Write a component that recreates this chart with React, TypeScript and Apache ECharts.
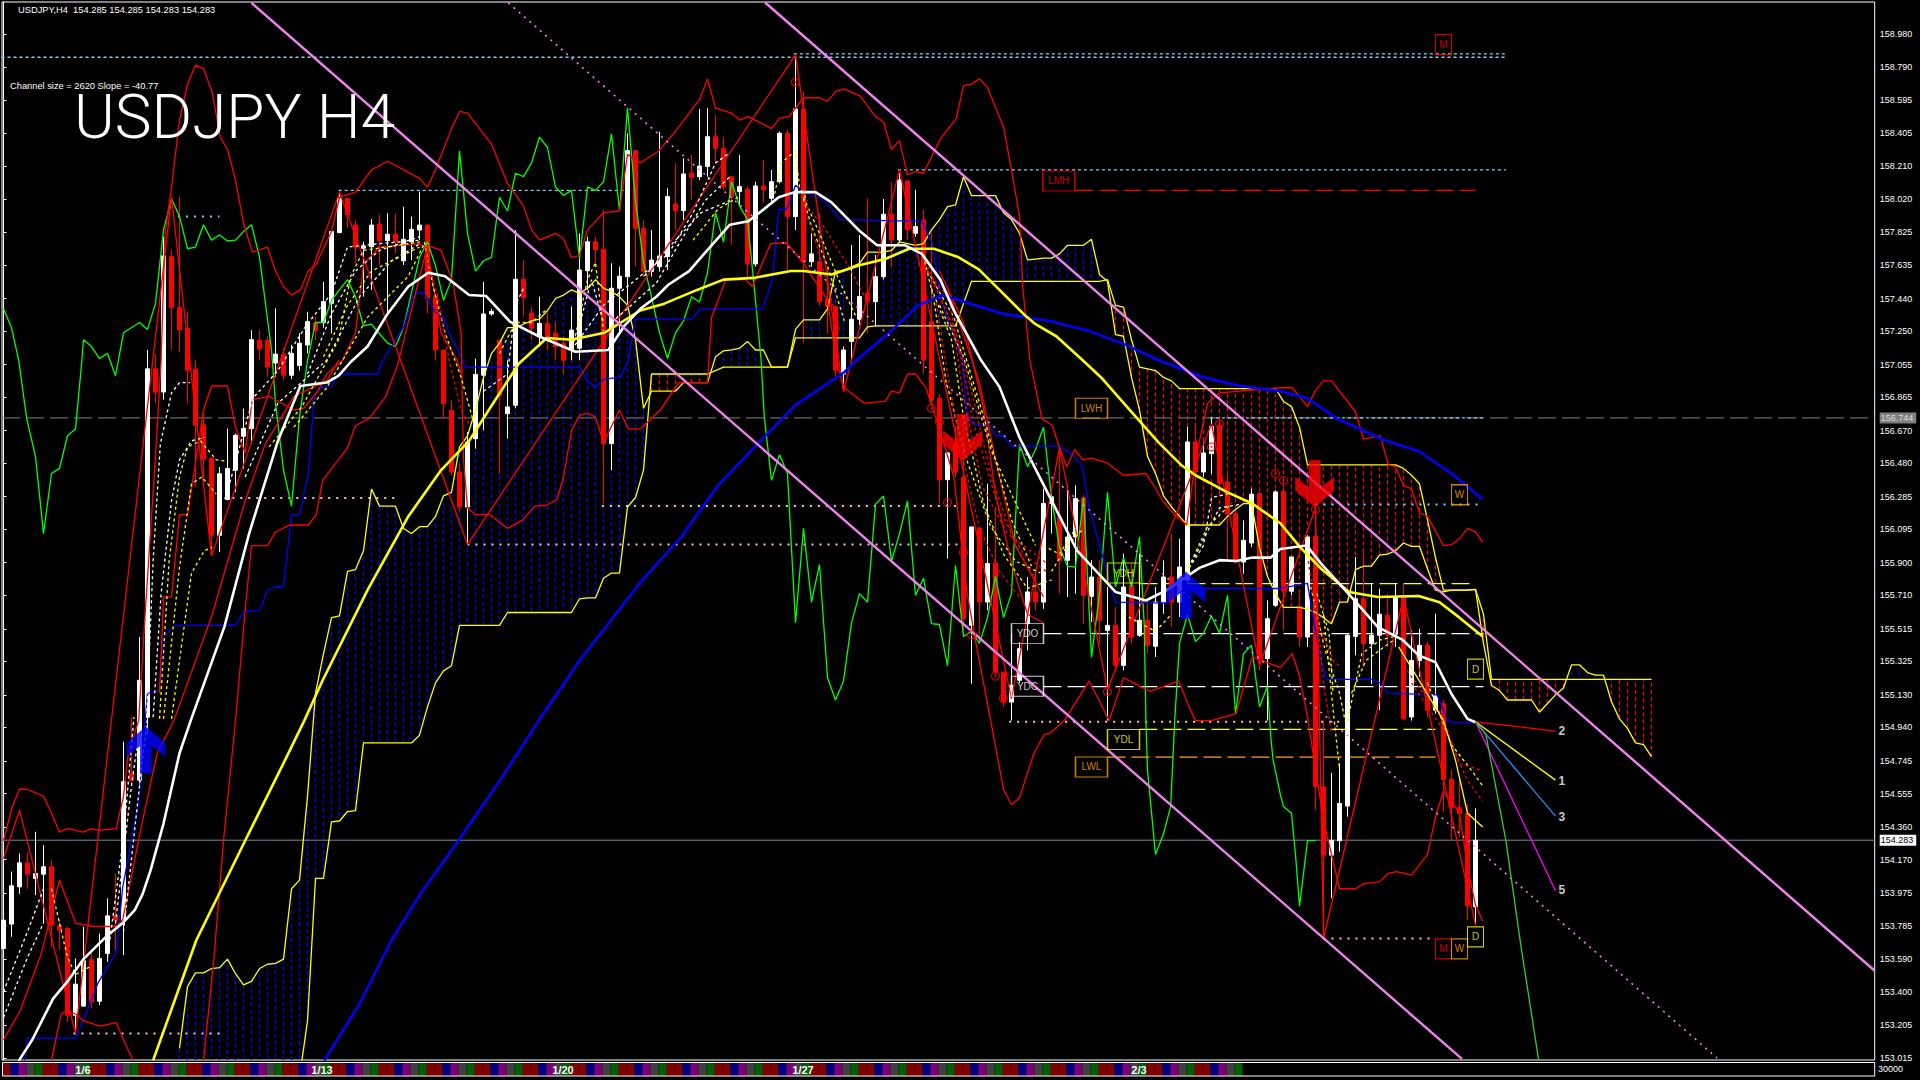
import React, { useEffect, useRef } from "react";
import * as echarts from "echarts";

type P = [number, number];

const axisTicks = [158.98,158.79,158.595,158.405,158.21,158.02,157.825,157.635,157.44,157.25,157.055,156.865,156.67,156.48,156.285,156.095,155.9,155.71,155.515,155.325,155.13,154.94,154.745,154.555,154.36,154.17,153.975,153.785,153.59,153.4,153.205,153.015];
const priceNow = 154.283;
const priceAsk = 156.744;

// open, close, low, high per H4 bar
const ohlc: number[][] = [
[153.652,153.817,153.63,153.83],[153.794,154.017,153.72,154.1],[154.011,154.151,153.97,154.206],[154.151,154.085,154.0,154.215],[154.06,154.089,153.963,154.332],
[154.085,154.128,153.798,154.254],[154.128,153.788,153.662,154.167],[153.784,153.759,153.642,153.817],[153.769,153.263,153.225,153.778],[153.263,153.444,153.157,153.594],
[153.316,153.58,153.312,153.778],[153.588,153.341,153.302,153.642],[153.345,153.594,153.322,153.739],[153.623,153.842,153.574,153.944],[153.846,153.817,153.642,154.089],
[153.817,154.624,153.613,154.857],[154.672,154.633,154.6,155.0],[154.633,155.215,154.58,155.467],[155.0,157.03,154.9,157.14],[157.03,156.895,156.83,157.12],
[156.895,157.688,156.85,157.8],[157.684,157.387,157.14,157.723],[157.389,157.256,157.13,158.034],[157.266,157.022,156.827,157.363],[157.028,156.701,156.342,157.08],
[156.705,156.503,156.342,156.769],[156.507,156.06,155.943,156.517],[156.06,156.419,155.963,156.458],[156.268,156.449,156.264,156.682],[156.439,156.643,156.312,156.653],
[156.637,156.682,156.449,156.798],[156.682,157.2,156.594,157.256],[157.197,157.145,157.08,157.256],[157.197,157.041,156.983,157.22],[157.064,157.116,156.983,157.383],
[157.116,156.993,156.963,157.15],[156.993,157.12,156.97,157.17],[157.05,157.179,157.02,157.237],[157.169,157.305,157.12,157.363],[157.299,157.253,157.198,157.334],
[157.299,157.422,157.27,157.538],[157.412,157.83,157.237,157.83],[157.824,158.024,157.82,158.063],[158.024,157.927,157.849,158.024],[157.868,157.738,157.645,157.898],
[157.733,157.746,157.451,157.771],[157.742,157.868,157.49,157.903],[157.874,157.777,157.635,157.927],[157.777,157.814,157.344,157.937],[157.814,157.771,157.703,157.937],
[157.66,157.785,157.635,157.975],[157.771,157.843,157.664,157.917],[157.839,157.868,157.781,158.063],[157.868,157.441,157.354,157.868],[157.451,157.14,157.08,157.47],
[157.14,156.827,156.74,157.14],[156.789,156.429,156.41,156.847],[156.429,156.225,156.2,156.478],[156.225,156.604,156.011,156.662],[156.623,156.998,156.565,157.09],
[156.993,157.35,156.672,157.538],[157.35,157.365,157.34,157.38],[157.197,156.876,156.419,157.2],[156.769,156.808,156.623,157.08],[156.818,157.552,156.8,157.839],
[157.552,157.445,157.334,157.664],[157.354,157.266,157.198,157.393],[157.218,157.295,157.159,157.451],[157.295,157.198,157.14,157.354],[157.237,157.159,157.08,157.3],
[157.179,157.08,157.0,157.22],[157.14,157.256,157.08,157.393],[157.15,157.606,157.08,157.82],[157.602,157.771,157.49,157.8],[157.771,157.723,157.626,157.8],
[157.727,156.594,156.245,157.956],[156.594,157.5,156.439,157.645],[157.5,157.57,157.237,157.626],[157.567,158.302,157.4,158.403],[158.302,157.849,157.626,158.3],
[157.849,157.597,157.567,157.898],[157.597,157.664,157.567,157.839],[157.625,157.688,157.597,158.413],[157.684,158.034,157.606,158.082],[157.991,157.952,157.839,158.228],
[157.952,158.166,157.898,158.257],[158.17,158.146,158.014,158.277],[158.15,158.212,158.13,158.545],[158.209,158.383,158.15,158.549],[158.383,158.315,158.228,158.51],
[158.315,158.092,158.073,158.383],[158.15,158.033,157.752,158.15],[158.063,158.092,157.975,158.277],[158.076,157.641,157.567,158.092],[157.641,158.096,157.626,158.121],
[158.096,158.073,158.0,158.247],[158.024,158.121,157.995,158.189],[158.121,158.403,158.111,158.413],[158.403,157.917,157.606,158.422],[157.917,158.545,157.839,158.859],
[158.545,157.655,157.179,158.646],[157.655,157.7,157.626,157.82],[157.655,157.422,157.4,157.937],[157.437,157.393,157.237,157.626],[157.393,157.022,156.963,157.4],
[157.0,157.14,156.895,157.16],[157.189,157.319,157.08,157.752],[157.319,157.451,157.286,157.81],[157.47,157.422,157.237,158.024],[157.422,157.567,157.276,157.694],
[157.567,157.931,157.55,158.02],[157.931,157.781,157.626,158.121],[157.781,158.131,157.762,158.189],[158.125,157.839,157.781,158.131],[157.82,157.859,157.8,158.073],
[157.898,157.08,157.0,157.956],[157.305,156.847,156.827,157.82],[156.857,156.384,156.245,156.886],[156.384,156.54,155.924,156.546],[156.594,156.429,156.4,156.7],
[156.4,155.574,155.487,156.759],[155.535,156.109,155.195,156.109],[156.103,155.671,155.428,156.103],[155.671,155.895,155.623,156.361],[155.899,155.263,155.234,156.225],
[155.263,155.088,155.059,155.263],[155.088,155.186,154.98,155.487],[155.215,155.399,155.2,155.438],[155.545,155.73,155.39,155.817],[155.73,155.671,155.62,155.837],
[155.671,156.245,155.632,156.332],[156.245,156.284,156.07,156.303],[156.167,155.914,155.72,156.565],[155.914,156.05,155.7,156.351],[156.05,156.274,155.72,156.351],
[156.278,155.71,155.545,156.293],[155.704,155.817,155.555,155.914],[155.817,155.565,155.428,155.914],[155.506,155.535,154.98,155.759],[155.535,155.302,155.27,155.642],
[155.302,155.759,155.273,155.953],[155.769,155.467,155.428,155.895],[155.477,155.565,155.467,155.953],[155.565,155.419,155.37,155.681],[155.413,155.671,155.351,155.759],
[155.671,155.817,155.603,155.914],[155.817,155.671,155.526,156.07],[155.671,155.875,155.584,156.04],[155.798,156.604,155.778,156.691],[156.604,156.429,156.264,156.711],
[156.429,156.54,156.4,156.604],[156.536,156.695,156.419,156.74],[156.701,156.361,156.303,156.73],[156.371,156.186,155.914,156.419],[156.186,155.904,155.895,156.206],
[155.904,156.031,155.836,156.147],[156.015,156.299,155.99,156.332],[156.303,155.341,155.273,156.313],[155.341,155.574,154.98,155.681],[155.652,156.313,155.642,156.322],
[156.316,155.734,155.506,156.381],[155.734,155.934,155.71,155.934],[155.646,155.467,155.409,155.72],[155.467,156.05,155.409,156.06],[156.054,154.594,154.458,156.225],
[154.594,154.196,153.72,154.98],[154.196,154.283,153.944,154.676],[154.28,154.497,154.216,154.73],[154.482,155.477,154.42,155.487],[155.471,155.69,155.36,155.934],
[155.69,155.428,155.292,155.973],[155.428,155.477,155.195,155.778],[155.477,155.6,155.04,155.749],[155.594,155.477,155.409,155.72],[155.483,155.697,155.409,155.778],
[155.697,154.991,154.98,155.778],[155.001,155.331,154.98,155.506],[155.331,155.419,155.234,155.516],[155.419,155.04,155.0,155.438],[155.04,155.127,155.02,155.603],
[155.079,154.637,154.449,155.1],[154.637,154.474,154.28,154.692],[154.474,154.439,154.303,154.653],[154.439,153.901,153.817,154.497],[153.895,154.283,153.788,154.468],
];

// Ichimoku spans, one value per bar from bar 22
const spanStart = 22;
const spanA = [153.07,153.43,153.51,153.51,153.535,153.54,153.59,153.505,153.44,153.46,153.535,153.56,153.565,153.59,154.0,154.05,154.54,155.14,155.37,155.58,155.59,155.85,155.86,155.97,156.33,156.23,156.23,156.23,156.1,156.07,156.11,156.11,156.17,156.29,156.31,156.575,156.64,156.79,156.98,157.12,157.18,157.27,157.27,157.29,157.31,157.32,157.37,157.44,157.46,157.49,157.47,157.5,157.55,157.5,157.48,157.45,157.4,157.2,156.8,156.9,156.9,156.9,156.9,156.95,156.95,156.95,156.95,157.1,157.135,157.14,157.15,157.19,157.14,157.14,157.04,157.04,157.04,157.26,157.315,157.315,157.315,157.38,157.6,157.6,157.625,157.645,157.71,157.71,157.71,157.72,157.77,157.76,157.75,157.76,157.84,157.9,157.975,157.985,158.15,158.04,158.04,158.04,158.04,157.94,157.9,157.82,157.665,157.67,157.675,157.675,157.7,157.75,157.75,157.75,157.785,157.58,157.54,157.23,157.22,156.98,156.79,156.52,156.42,156.29,156.225,156.17,156.12,156.12,156.12,156.12,156.12,156.17,156.21,156.245,156.245,155.99,155.82,155.72,155.64,155.64,155.64,155.63,155.61,155.58,155.545,155.67,155.67,155.86,155.88,155.88,155.945,155.95,155.97,156.015,155.995,155.995,155.865,155.74,155.73,155.74,155.74,155.74,155.745,155.43,155.185,155.155,155.1,155.1,155.1,155.1,155.03,155.08,155.13,155.17,155.305,155.305,155.26,155.245,155.245,155.09,154.99,154.935,154.85,154.84,154.77];
const spanB = [152.9,152.9,152.9,152.9,152.9,152.9,152.9,152.9,152.9,152.9,152.9,152.9,152.9,152.9,152.9,152.9,153.23,154.06,154.06,154.39,154.395,154.45,154.455,154.85,154.85,154.85,154.85,154.85,154.85,154.85,154.895,155.06,155.2,155.27,155.3,155.535,155.535,155.535,155.535,155.535,155.535,155.61,155.61,155.61,155.61,155.61,155.61,155.61,155.61,155.61,155.69,155.695,155.695,155.81,155.84,155.84,156.225,156.28,156.44,157.0,157.0,157.0,157.0,157.0,157.0,157.0,157.0,157.02,157.04,157.04,157.04,157.04,157.04,157.04,157.04,157.04,157.04,157.21,157.21,157.21,157.21,157.21,157.21,157.21,157.21,157.21,157.275,157.28,157.28,157.28,157.28,157.28,157.28,157.28,157.28,157.28,157.28,157.28,157.41,157.54,157.54,157.54,157.54,157.54,157.54,157.54,157.54,157.54,157.54,157.54,157.54,157.54,157.54,157.54,157.54,157.54,157.55,157.4,157.39,157.2,157.04,157.03,157.02,156.98,156.96,156.915,156.915,156.915,156.915,156.915,156.915,156.915,156.915,156.915,156.915,156.915,156.915,156.915,156.84,156.81,156.69,156.47,156.47,156.47,156.47,156.47,156.47,156.47,156.47,156.47,156.47,156.47,156.47,156.45,156.41,156.36,156.15,155.93,155.74,155.74,155.74,155.74,155.745,155.6,155.22,155.22,155.22,155.22,155.22,155.22,155.22,155.22,155.22,155.22,155.22,155.22,155.22,155.22,155.22,155.22,155.22,155.22,155.22,155.22,155.22];

const maWhite: P[] = [[1.9,152.997],[3.6,153.12],[6.2,153.36],[8,153.46],[10,153.59],[12.8,153.72],[14.9,153.8],[16.4,153.875],[17.4,153.97],[18.4,154.11],[20,154.38],[22,154.79],[23.4,154.98],[27.6,155.525],[30.7,156.07],[34.3,156.61],[37.1,156.93],[40.4,156.95],[41.9,156.99],[43.4,157.07],[45.5,157.16],[48,157.35],[50.6,157.51],[53.1,157.59],[55.2,157.57],[58.2,157.46],[60.3,157.455],[63.3,157.305],[66.9,157.22],[71.5,157.13],[75.6,157.14],[77.6,157.28],[79.6,157.38],[81.6,157.45],[83.1,157.52],[85.7,157.6],[88.7,157.76],[90.8,157.87],[93.1,157.89],[94.9,157.955],[96.9,158.03],[98.9,158.06],[101.5,158.06],[103.5,158.0],[107.1,157.83],[109.2,157.75],[112.7,157.75],[114.8,157.7],[117.1,157.55],[118.8,157.37],[122.2,157.08],[124.5,156.925],[127,156.63],[130.6,156.3],[134.2,155.97],[137.2,155.82],[139,155.73],[142.8,155.68],[145.4,155.74],[149.5,155.87],[152,155.915],[154.1,155.91],[156.1,155.93],[158.4,155.93],[159.6,155.98],[162.9,156.0],[164.7,155.895],[168.7,155.69],[171.8,155.525],[174.9,155.45],[176.9,155.36],[179,155.32],[181,155.135],[183,154.99],[184,154.97]];
const maYellow: P[] = [[18.7,153.0],[24.1,153.7],[30.2,154.28],[35.3,154.76],[37.6,154.98],[39.9,155.215],[45.5,155.74],[50.6,156.17],[54.7,156.44],[58.2,156.61],[60.8,156.8],[64.4,157.06],[67.9,157.21],[71,157.2],[75.1,157.24],[79.6,157.37],[82.6,157.41],[86.7,157.49],[90,157.55],[93.8,157.56],[98.4,157.6],[100,157.6],[103.5,157.58],[107.1,157.635],[110.2,157.67],[113.2,157.73],[116.3,157.73],[119.4,157.68],[121.9,157.61],[124.5,157.49],[127.5,157.35],[129,157.29],[131.6,157.22],[134.9,157.08],[137.2,156.98],[140.8,156.79],[144.4,156.6],[147.2,156.47],[149,156.41],[153,156.31],[156.1,156.245],[159.6,156.13],[162.1,155.99],[164.7,155.865],[168.2,155.73],[171.8,155.7],[176.9,155.706],[179.5,155.67],[182,155.58],[184.9,155.47]];
const maBlue: P[] = [[40.1,153.0],[44.5,153.33],[48.5,153.7],[52.1,153.97],[56.7,154.27],[62.3,154.65],[66.9,154.98],[72,155.33],[79.6,155.785],[84.7,156.05],[89.3,156.35],[94.4,156.6],[99,156.82],[105.1,157.01],[106.6,157.08],[110.7,157.24],[114.3,157.4],[117.3,157.46],[125,157.35],[130.6,157.31],[135.7,157.25],[139.8,157.18],[144.4,157.08],[150,156.98],[154.6,156.93],[159.6,156.9],[162.9,156.86],[166.7,156.74],[172.3,156.62],[176.9,156.55],[181,156.42],[184.9,156.27]];
const kijunBlue: P[] = [[2.6,153.0],[3,153.13],[9,153.13],[10.3,153.27],[11.8,153.45],[14.1,153.63],[14.9,154.01],[16.9,154.5],[17.7,154.98],[18,155.14],[19.5,155.15],[20,155.47],[21.5,155.535],[29,155.535],[30.1,155.62],[32,155.62],[33,155.74],[34,155.76],[35,155.76],[36,156.18],[37,156.18],[38.1,156.42],[38.8,156.85],[39.4,156.92],[41,156.93],[41.9,157.0],[46.8,157.0],[47.4,157.08],[48.5,157.16],[50.1,157.28],[51.1,157.45],[52,157.48],[52.6,157.47],[53,157.44],[54,157.36],[55,157.33],[55.7,157.24],[57,157.12],[57.7,157.04],[72,157.04],[73,156.96],[74,156.92],[75,156.97],[77.1,156.98],[78.1,157.08],[79,157.32],[86,157.32],[87.1,157.38],[94.9,157.38],[96.1,157.55],[96.9,157.96],[97.9,157.96],[99,158.1],[100,158.06],[102,158.03],[103,157.99],[104.6,157.9],[114.8,157.89],[116.1,157.76],[117.1,157.45],[118.3,157.28],[119.9,157.08],[120.4,156.76],[121.4,156.7],[123.2,156.7],[124,156.64],[125,156.64],[126,156.58],[131.9,156.58],[133.6,156.53],[134.9,156.46],[135.7,156.22],[137.2,155.97],[139,155.67],[145.4,155.665],[147.9,155.76],[151,155.75],[159.6,155.75],[163,155.78],[163.9,155.53],[164.7,155.33],[165.4,155.22],[171,155.22],[172.1,155.2],[173.1,155.14],[179.2,155.13],[180.5,154.98],[181,154.97],[184,154.97]];
const chikouGreen: P[] = [[0,157.38],[1,157.27],[1.9,157.08],[2.9,156.74],[4,156.52],[5,156.07],[6,156.42],[7,156.45],[8,156.64],[9,156.68],[9.8,157.08],[10,157.2],[11,157.16],[12,157.09],[13,157.12],[14,156.99],[15,157.24],[17,157.3],[18,157.26],[19,157.41],[20,157.84],[21,158.02],[22,157.92],[23,157.73],[24,157.74],[25,157.87],[26,157.78],[27,157.81],[28,157.775],[29,157.78],[30,157.83],[31,157.87],[32,157.68],[33.5,157.14],[34,156.83],[35,156.44],[36,156.23],[37,156.75],[38,157.08],[39,157.3],[40,157.3],[41,157.43],[43,157.55],[44,157.45],[45,157.28],[46,157.29],[48,157.18],[49,157.16],[50,157.27],[52,157.68],[53,157.77],[54,157.63],[55,157.43],[56,157.55],[57,158.3],[58,157.82],[59,157.6],[60,157.66],[61,157.68],[62,158.03],[63,157.95],[64,158.17],[65,158.15],[66,158.23],[67,158.38],[68,158.32],[69,158.09],[70,158.04],[71,158.07],[72,157.67],[73,158.09],[74,158.07],[75,158.12],[76,158.4],[77,157.95],[78,158.55],[79,158.01],[80,157.65],[81,157.45],[82,157.24],[83,157.09],[84,157.24],[85,157.31],[86,157.45],[87,157.42],[88,157.59],[89,157.94],[90,157.77],[91,158.12],[92,157.98],[93,157.9],[94,157.43],[94.7,157.08],[95.1,156.75],[96,156.38],[97,156.53],[98,156.42],[99,155.55],[100,156.1],[101,155.67],[102,155.89],[103,155.23],[104,155.1],[105,155.21],[106,155.55],[107,155.72],[108,155.67],[109,156.24],[110,156.29],[111,155.91],[112,156.07],[113,156.26],[114,155.71],[115,155.81],[116,155.545],[117,155.54],[118,155.3],[119,155.885],[120,155.47],[121,155.5],[122,155.43],[123,155.58],[124,155.82],[125,155.58],[126,155.72],[127,156.59],[128,156.46],[129,156.56],[130,156.69],[131,156.28],[132,155.99],[133,155.88],[134,155.875],[135,156.28],[136,155.35],[137,155.72],[138,156.31],[139,155.76],[140,155.93],[141,155.76],[142,156.05],[142.6,155.53],[142.8,154.98],[143,154.69],[144,154.2],[145,154.32],[145.9,154.48],[146.4,154.98],[147,155.43],[148,155.6],[149,155.44],[150,155.49],[151,155.59],[152,155.49],[153,155.71],[154,155.02],[155,155.37],[156,155.42],[157,155.06],[158,155.18],[158.4,154.89],[158.7,154.75],[159.6,154.55],[160,154.48],[161,154.44],[161.5,154.2],[162,153.9],[163,154.28],[164,154.28]];
const bandUpper: P[] = [[0,154.28],[1.1,154.48],[2,154.58],[2.9,154.58],[5,154.54],[6,154.44],[7,154.33],[8,154.35],[10,154.33],[11,154.35],[12,154.34],[14.1,154.35],[15,154.54],[15.6,154.79],[16.9,154.98],[17.7,155.6],[19,156.52],[19.7,157.08],[20.2,157.82],[21,158.09],[22,158.48],[23,158.69],[24,158.8],[25,158.78],[26.1,158.64],[27.1,158.38],[28,158.31],[29,158.13],[30,157.88],[31.1,157.71],[33,157.74],[34,157.6],[35,157.51],[36,157.46],[37.1,157.49],[38.1,157.6],[39.1,157.64],[41,157.83],[42,158.03],[44,158.06],[46,158.19],[48,158.24],[52,158.14],[53,158.09],[54,158.19],[56,158.43],[57,158.53],[58,158.52],[61,158.34],[63,158.11],[65,157.98],[66,157.84],[67,157.78],[69,157.82],[70,157.79],[71,157.68],[72,157.69],[73,157.84],[75,157.94],[77,157.95],[78,158.28],[79.6,158.23],[81.9,158.3],[83.9,158.41],[87,158.6],[88,158.72],[89,158.55],[91,158.52],[92,158.48],[93.1,158.5],[96,158.43],[97,158.49],[98.2,158.5],[100,158.61],[102,158.61],[103,158.59],[104.1,158.65],[105.1,158.66],[107.1,158.62],[109,158.5],[110,158.47],[111,158.31],[112,158.36],[113,158.16],[114,158.18],[115,158.17],[117.1,158.37],[119.1,158.49],[120,158.68],[121,158.69],[122,158.72],[123,158.67],[125,158.44],[126,158.19],[127,157.92],[127.4,157.51],[128.3,157.08],[129.8,156.74],[131.1,156.7],[132,156.57],[132.9,156.46],[133.9,156.56],[134.9,156.5],[136,156.51],[138,156.48],[140,156.41],[142.8,156.42],[143.8,156.35],[144.9,156.26],[146.4,156.18],[147.9,156.12],[149,156.5],[150.5,156.83],[152,156.89],[159.6,156.92],[161.1,156.92],[163,156.81],[164,156.905],[165,156.96],[166,156.96],[169,156.78],[170,156.62],[172.1,156.64],[173.1,156.47],[174,156.46],[175,156.35],[176,156.33],[177,156.19],[178,156.17],[180,156.0],[181,156.005],[182,156.04],[183,156.1],[184,156.08],[184.9,156.02]];
const bandLowerA: P[] = [[6,153.0],[7.2,153.27],[8,153.29],[9,153.27],[10,153.23],[12.1,153.2],[14.1,153.22],[15,153.12],[16.2,153.0]];
const bandLowerB: P[] = [[25,153.0],[26.3,153.59],[27.5,154.28],[29,154.98],[30.2,155.62],[31,156.0],[33,156.0],[34,156.08],[35.8,156.12],[38.1,156.12],[39.1,156.18],[39.9,156.38],[43,156.57],[44,156.7],[45.7,156.74],[47.8,156.87],[49.3,157.06],[53,157.75],[54.7,157.72],[56.2,157.53],[57.2,157.24],[57.5,156.5],[58,156.22],[59,156.18],[60.8,156.18],[63,156.1],[64.9,156.15],[66.4,156.23],[67.9,156.235],[69.2,156.27],[70,156.4],[71,156.67],[72,156.76],[73,156.77],[74,156.75],[75,156.6],[77,156.79],[78.1,156.68],[79.6,156.68],[82.1,156.79],[84.4,156.95],[86.2,156.95],[88,156.95],[88.5,157.33],[90.3,157.55],[92.8,157.55],[93.6,157.51],[95.9,157.76],[97.9,157.765],[100,157.645],[103,157.43],[104.1,157.08],[105.1,156.92],[107.6,156.83],[110.2,156.84],[111,156.9],[112,156.89],[113,157.0],[114,157.0],[115.3,156.92],[116.8,156.71],[118.8,156.4],[120.4,155.74],[121.4,155.47],[123.4,154.98],[125,154.58],[126,154.49],[127,154.53],[128.8,154.79],[130.1,154.9],[130.8,154.905],[132.6,154.98],[135.7,155.21],[136.7,155.12],[138.2,154.98],[140,155.23],[143.3,155.15],[146.9,155.21],[148.2,155.06],[149,154.98],[151,154.98],[154.05,155.02],[156.1,155.35],[159.6,155.29],[161.1,155.37],[162,155.24],[163,155.0],[165,154.4],[166,154.2],[167,154.0],[169,154.0],[170,154.03],[172,154.04],[173.1,154.09],[174.1,154.1],[176,154.08],[178,154.2],[179,154.42],[180,154.57],[182,154.44],[183,154.13],[184,153.905],[184.9,153.81]];
const zigzagRed: P[] = [[0,154.177],[2,154.458],[9,153.157],[21,158.03],[26,155.94],[42,158.06],[58,156.007],[99,158.86],[105,156.895],[112,158.19],[126,155.108],[132,156.57],[138,155.16],[151,156.71],[157,155.3],[164,156.22],[165,153.71],[175,155.7],[184,153.79]];
const tenkanRed: P[] = [[19.5,155.14],[20,155.7],[21,155.7],[22,156.18],[23,156.18],[23.8,156.42],[25,156.79],[26,156.93],[28,156.93],[29,156.69],[30.2,156.54],[31.1,156.85],[33.2,156.87],[36.3,156.79],[37.5,156.8],[39.3,156.9],[40.4,157.0],[42.4,157.08],[44,157.24],[45,157.64],[47,157.74],[52,157.76],[53,157.72],[54.7,157.24],[56.7,157.08],[57.2,157.0]];
const riseRed: P[] = [[0,153.12],[2.1,153.29],[4.7,153.62],[7,154.05],[9,153.8],[11.3,153.78],[14.1,153.78],[14.9,153.82],[17.4,154.4],[19.2,154.79],[21.3,154.98],[26.1,155.6],[30.2,156.26],[32.7,156.59],[36.3,156.87],[40.4,156.96],[41.9,157.08]];
const fallRed: P[][] = [
  [[117,157.6],[120,157.3],[122.5,156.8],[124,156.3],[126,155.9],[128,155.6],[130,155.55]],
  [[118,157.5],[122,156.95],[124,156.5],[126.5,156.0],[130,155.7]],
];

// moving-average ribbon pieces
const ribbonWhite: P[][] = [
  [[17.9,155.0],[18.7,155.91],[19.6,156.59],[21,156.89],[22,156.95],[23.3,156.95]],
  [[18.7,155.0],[19.7,155.72],[21,156.26],[22,156.5],[23.5,156.61],[25.1,156.63]],
  [[27.9,156.3],[31.2,156.86],[34.3,157.02],[37.8,157.28],[41,157.47],[43,157.74],[47,157.76],[52.1,157.78]],
  [[30.2,156.4],[34.3,156.83],[40.4,157.08],[44.5,157.45],[48.5,157.66],[52.1,157.76]],
  [[38,157.0],[41,157.35],[44,157.6],[47,157.72],[52,157.8]],
  [[71,157.14],[75,157.4],[83.1,157.7],[86.2,157.94],[89,158.23],[90.5,158.28]],
  [[76,157.3],[81.6,157.53],[84.7,157.78],[87.7,158.01],[90.8,158.15]],
  [[80.1,157.57],[83.6,157.76],[87.2,157.94],[90.8,158.01]],
  [[71.5,157.2],[73.5,157.55],[75,157.3]],
  [[60,156.9],[63,157.0],[64,157.4],[65,157.5]],
  [[147.8,155.84],[150,156.0],[151,156.28],[153,156.3]],
  [[147.8,155.84],[149.5,155.99],[152,156.22],[154.6,156.24]],
  [[0,153.4],[3,153.75],[5,154.0]],
  [[0,153.25],[3,153.6],[5,153.8]],
  [[13,153.6],[15,154.3],[16.3,155.0]],
  [[14,153.8],[16,154.6],[17.2,155.0]],
  [[15,153.75],[17,154.6],[18,155.0]],
];
const ribbonYellow: P[][] = [
  [[19.5,154.99],[20.7,155.91],[22,156.4],[23,156.575],[24.6,156.61],[26.6,156.5],[28.1,156.49]],
  [[20,154.99],[22,155.875],[23.5,156.36],[24.8,156.4],[26.6,156.3]],
  [[21,154.99],[23.5,155.84],[25.1,155.97],[26.1,155.99]],
  [[33.2,156.575],[37.3,156.81],[41.9,157.2],[43.4,157.57],[45,157.72],[52.1,157.77]],
  [[36.3,156.69],[40.4,156.92],[45.5,157.33],[50.6,157.57],[52.6,157.76]],
  [[40,157.1],[43,157.4],[46,157.6],[52,157.74]],
  [[52.6,157.77],[53.6,157.53],[55.2,157.24],[57.2,156.98],[58.7,156.73]],
  [[62,157.12],[64,157.3],[66,157.3],[68,157.38]],
  [[71,157.12],[73,157.55],[74,157.65],[75,157.25]],
  [[86.2,157.78],[89.3,157.96],[91.8,158.03]],
  [[96.4,158.05],[97.2,158.23],[99,158.3],[99.5,158.09],[100.5,158.01]],
  [[100,158.03],[102,157.82],[104.6,157.53],[106.6,157.33]],
  [[100,158.02],[101,157.86],[103,157.63],[105.1,157.31]],
  [[115,157.69],[116.3,157.43],[117.8,156.96],[120.4,156.5],[123.4,156.11],[126.5,155.91],[129.6,155.84]],
  [[115.5,157.6],[118.8,157.33],[122.9,156.69],[126,156.15],[128.5,155.88]],
  [[116,157.5],[118.5,157.2],[120,156.75],[122.5,156.25],[125,155.95],[128,155.75],[131,155.8]],
  [[117,157.4],[120,157.1],[123.5,156.55],[126.5,156.25],[129,156.0]],
  [[130,156.0],[132,155.95],[134,156.1]],
  [[131,155.85],[133,156.0],[135,156.1]],
  [[140,155.6],[142,155.55],[144,155.5],[146,155.6]],
  [[147.8,155.84],[150.5,156.11],[153.5,156.245]],
  [[164.2,155.72],[165.7,155.49],[166.2,155.14]],
  [[163.4,155.76],[165.2,155.39],[167,155.14],[167.7,154.98]],
  [[165,155.6],[166.3,155.0],[167,154.7]],
  [[168,154.98],[169.8,155.37],[172.1,155.45],[173.8,155.47]],
  [[168.5,155.14],[170.3,155.33],[172.3,155.4],[174.1,155.46]],
  [[178,155.2],[181,154.84],[183.5,154.69],[184.9,154.6]],
  [[6,154.0],[8,153.6],[9,153.5],[11,153.55]],
];
const ribbonRed: P[][] = [
  [[52.6,157.74],[54.4,157.43],[55.7,157.08],[57.2,156.79],[58.2,156.71]],
  [[100,158.0],[102.5,157.86],[105.6,157.63],[108.1,157.41]],
  [[100,157.98],[101.5,157.78],[103.5,157.43],[104.6,157.24]],
  [[115,157.69],[117.3,157.43],[119.4,157.16],[121.4,156.69],[124.5,156.2],[127.5,155.95],[130.6,155.84]],
  [[115.5,157.6],[118.3,157.43],[119.9,156.89],[122.4,156.34],[125.5,156.07],[130.6,155.89]],
  [[116,157.55],[119,157.25],[121,156.9],[123.5,156.4],[126.5,156.0],[129,155.8]],
  [[116.5,157.45],[118,157.0],[120,156.5],[122,156.1],[124.5,155.85],[127,155.7]],
  [[163.1,155.91],[164.2,155.56],[166.2,155.33],[167.2,155.29]],
  [[164,155.7],[165,155.2],[166,154.9]],
  [[175,155.3],[180,154.98],[182,154.73],[184.8,154.69]],
  [[176,155.2],[180.5,154.89],[183,154.63],[184.9,154.51]],
];
const ribbonYellowSolid: P[] = [[174.4,155.41],[180,154.98],[181.5,154.75],[183,154.44],[184.9,154.36]];

// regression channel
const channelUpper: P[] = [[95.2,159.165],[233.9,153.522]];
const channelLower: P[] = [[31,159.163],[182.3,153.008]];
const channelMid: P[] = [[63.1,159.163],[214.2,153.013]];

// price, first bar, last bar
const fineBlueLevels = [[158.846,-1,187.8],[158.866,98.8,187.8],[158.19,111.8,187.8],[158.07,41.9,78.5],[156.744,150.8,185]];
const dotBlueLevels = [[157.918,21.8,27],[156.24,164,185]];
const dotPinkLevels = [[156.278,27.6,49],[156.007,58,119.6],[156.23,74.8,119.6],[153.157,8.75,27],[153.71,165,179],[154.973,125.7,168]];
const whiteDashLevels = [[155.487,130,185],[155.178,130,185]];
const yellowDashLevels = [[154.929,142,179],[155.778,142,184]];
const orangeDashLevels = [[154.767,138,179]];
const redDashLevels = [[158.07,134,184]];

// projections from the last bar
const fanOrigin: P = [184,154.973];
const fanEnds: P[] = [[194,154.919],[194,154.633],[194,154.423],[194,153.988]];
const fanGreen: P[] = [[184,154.973],[185.3,154.9],[187.8,154.28],[189.7,153.66],[191.9,153.0]];
const fanLabels = ["2","1","3","5"];
const fanLabelPoints: P[] = [[194.8,154.92],[194.8,154.628],[194.8,154.42],[194.8,153.99]];

const pivotCircles: P[] = [[99,158.7],[116,156.8],[117,156.72],[118,156.25],[120,155.96],[121,155.48],[124,155.24],[125,155.11],[138,155.15],[151,156.575],[152,156.71],[159,156.42],[160,156.38],[164,156.21]];
const arrowsUp: P[] = [[17.8,154.81],[147.8,155.71]];
const arrowsDown: P[] = [[119.9,156.63],[163.9,156.36]];

const tagNames = ["M","LMH","LWH","W","YDH","YDO","YDC","YDL","LWL","D","M","W","D"];
const tagPoints: P[] = [[180,158.92],[131.9,158.125],[136,156.8],[182,156.296],[140,155.84],[128,155.487],[128,155.18],[140,154.87],[136,154.71],[184,155.28],[180,153.65],[182,153.65],[184,153.72]];
const tagColors = ["#ff0000","#ff0000","#ffa500","#ffa500","#ffff00","#ffffff","#ffffff","#ffff00","#ffa500","#ffff00","#ff0000","#ffa500","#ffff00"];

const stripColors = ["#7f0000","#000080","#7a007a","#404040","#006000","#7f0000"];
const stripBars = 155;
const dateLabels = ["1/6","1/13","1/20","1/27","2/3"];
const dateLabelX = [83,322,563,803,1139];

const ARROW = "path://M50 0 L100 36 L100 65 L65 42 L65 100 L35 100 L35 42 L0 65 L0 36 Z";
const FONT = "'Liberation Sans', Arial, sans-serif";
const X_MIN = -0.1875;
const X_MAX = 233.9;
const Y_MIN = 153.002;
const Y_MAX = 159.168;
const THIN = 1.3;

function lineSeries(data: P[], color: string, width = THIN, type: any = "solid", z = 3): any {
  return { type: "line", data, symbol: "none", silent: true, z, lineStyle: { color, width, type }, clip: true, xAxisIndex: 0, yAxisIndex: 0 };
}
function levelSeries(rows: number[][], color: string, width: number, type: any): any[] {
  return rows.map(([p, a, b]) => lineSeries([[a, p], [b, p]], color, width, type, 2));
}

export default function App() {
  const ref = useRef<HTMLDivElement>(null);
  useEffect(() => {
    const chart = echarts.init(ref.current!, undefined, { renderer: "svg" });
    const spanLineA: P[] = spanA.map((v, k) => [spanStart + k, v]);
    const spanLineB: P[] = spanB.map((v, k) => [spanStart + k, v]);
    const hatch = spanA.map((v, k) => [spanStart + k, v, spanB[k]]);
    const option: any = {
      animation: false,
      backgroundColor: "#000",
      grid: [
        { left: 2, top: 2, width: 1872.7, height: 1058, show: true, borderColor: "#fff", borderWidth: 1, backgroundColor: "#000", containLabel: false },
        { left: 5, top: 1063, width: 1872.7, height: 13, show: false },
      ],
      xAxis: [
        { type: "value", min: X_MIN, max: X_MAX, show: false, gridIndex: 0 },
        { type: "value", min: X_MIN, max: X_MAX, show: false, gridIndex: 1 },
      ],
      yAxis: [
        {
          type: "value", min: Y_MIN, max: Y_MAX, position: "right", gridIndex: 0, splitLine: { show: false },
          axisLine: { show: true, lineStyle: { color: "#fff" } },
          axisTick: { show: true, length: 3, lineStyle: { color: "#fff" }, customValues: axisTicks },
          axisLabel: {
            color: "#fff", fontFamily: FONT, fontSize: 9, margin: 5, showMinLabel: true, showMaxLabel: true,
            customValues: [...axisTicks, priceAsk, priceNow],
            formatter: (v: number) => {
              const s = v.toFixed(3);
              if (v === priceNow) return `{now|${s}}`;
              if (v === priceAsk) return `{ask|${s}}`;
              return s;
            },
            rich: {
              now: { backgroundColor: "#fff", color: "#000", fontFamily: FONT, fontSize: 9, padding: [1, 3, 1, 1] },
              ask: { backgroundColor: "#808080", color: "#ddd", fontFamily: FONT, fontSize: 9, padding: [1, 3, 1, 1] },
            },
          },
        },
        { type: "value", min: 0, max: 1, show: false, gridIndex: 1 },
      ],
      graphic: [
        { type: "rect", silent: true, shape: { x: 2.5, y: 1062.5, width: 1872.2, height: 13.5 }, style: { fill: "none", stroke: "#fff", lineWidth: 1 }, z: 5 },
        { type: "text", silent: true, x: 18, y: 5, style: { text: "USDJPY,H4  154.285 154.285 154.283 154.283", fill: "#fff", font: `9.3px ${FONT}` }, z: 20 },
        { type: "text", silent: true, x: 10, y: 81, style: { text: "Channel size = 2620 Slope = -40.77", fill: "#fff", font: `9.3px ${FONT}` }, z: 20 },
        { type: "text", silent: true, x: 74, y: 85, style: { text: "USDJPY H4", fill: "#fff", font: `300 62px Roboto, ${FONT}` }, z: 20 },
        { type: "text", silent: true, x: 1878, y: 1064, style: { text: "30000", fill: "#fff", font: `9px ${FONT}` }, z: 20 },
        ...dateLabels.map((t, k) => ({ type: "text", silent: true, x: dateLabelX[k], y: 1070, style: { text: t, fill: "#fff", font: `bold 11px ${FONT}`, align: "center", verticalAlign: "middle" }, z: 20 })),
      ],
      series: [
        {
          type: "custom", clip: true, silent: true, z: 1, xAxisIndex: 0, yAxisIndex: 0, data: hatch, encode: { x: 0, y: [1, 2] },
          renderItem: (_: any, api: any) => {
            const i = api.value(0), a = api.value(1), b = api.value(2);
            const p1 = api.coord([i, a]), p2 = api.coord([i, b]);
            return { type: "line", shape: { x1: p1[0], y1: p1[1], x2: p2[0], y2: p2[1] }, style: { stroke: a > b ? "#0000ff" : "#ff0000", lineWidth: 1.2, lineDash: [4, 3], fill: "none" } };
          },
        },
        {
          type: "bar", xAxisIndex: 1, yAxisIndex: 1, barWidth: 8, silent: true, z: 1,
          data: Array.from({ length: stripBars }, (_, i) => ({ value: [i, 1], itemStyle: { color: stripColors[i % 6] } })),
        },
        ...levelSeries([[priceAsk, X_MIN, X_MAX]], "#808080", 1, [18, 6]),
        ...levelSeries([[priceNow, X_MIN, X_MAX]], "#778899", 1, "solid"),
        ...levelSeries(fineBlueLevels, "#87cefa", 1.3, [3, 3]),
        ...levelSeries(dotBlueLevels, "#87cefa", 2, [2, 6]),
        ...levelSeries(dotPinkLevels, "#ffc0cb", 2, [2, 6]),
        ...levelSeries(whiteDashLevels, "#ffffff", THIN, [18, 6]),
        ...levelSeries(yellowDashLevels, "#ffff00", THIN, [18, 6]),
        ...levelSeries(orangeDashLevels, "#ffa500", THIN, [18, 6]),
        ...levelSeries(redDashLevels, "#ff0000", THIN, [18, 6]),
        {
          type: "candlestick", xAxisIndex: 0, yAxisIndex: 0, barWidth: 4, silent: true, z: 2, clip: true,
          data: ohlc.map((r, i) => [i, r[0], r[1], r[2], r[3]]),
          itemStyle: { color: "#fff", color0: "#ff0000", borderColor: "#fff", borderColor0: "#ff0000", borderWidth: 1 },
        },
        lineSeries(spanLineA, "#ffff00"),
        lineSeries(spanLineB, "#ffff00"),
        lineSeries(chikouGreen, "#00ff00"),
        lineSeries(kijunBlue, "#0000ff"),
        lineSeries(bandUpper, "#ff0000"),
        lineSeries(bandLowerA, "#ff0000"),
        lineSeries(bandLowerB, "#ff0000"),
        lineSeries(zigzagRed, "#ff0000"),
        lineSeries(tenkanRed, "#ff0000"),
        lineSeries(riseRed, "#ff0000"),
        ...fallRed.map((d) => lineSeries(d, "#ff0000")),
        ...ribbonWhite.map((d) => lineSeries(d, "#ffffff", THIN, [3, 3])),
        ...ribbonYellow.map((d) => lineSeries(d, "#ffff00", THIN, [3, 3])),
        ...ribbonRed.map((d) => lineSeries(d, "#ff0000", THIN, [3, 3])),
        lineSeries(ribbonYellowSolid, "#ffff00"),
        lineSeries(maBlue, "#0000ff", 2.6),
        lineSeries(maYellow, "#ffff00", 2.6),
        lineSeries(maWhite, "#ffffff", 2.6),
        lineSeries(channelUpper, "#ee82ee", 2.4),
        lineSeries(channelLower, "#ee82ee", 2.4),
        lineSeries(channelMid, "#ee82ee", 1.6, [2, 5]),
        lineSeries([fanOrigin, fanEnds[0]], "#ff0000"),
        lineSeries([fanOrigin, fanEnds[1]], "#ffff00"),
        lineSeries([fanOrigin, fanEnds[2]], "#1e90ff"),
        lineSeries([fanOrigin, fanEnds[3]], "#ff00ff"),
        lineSeries(fanGreen, "#32cd32"),
        {
          type: "scatter", data: pivotCircles, symbol: "circle", symbolSize: 8, silent: true, z: 4,
          itemStyle: { color: "transparent", borderColor: "#ff0000", borderWidth: 1.2 },
        },
        {
          type: "scatter", data: pivotCircles, symbol: "circle", symbolSize: 2, silent: true, z: 4,
          itemStyle: { color: "#ff0000" },
        },
        { type: "scatter", data: arrowsUp, symbol: ARROW, symbolKeepAspect: false, symbolSize: [39, 47], silent: true, z: 5, itemStyle: { color: "#0000ff" } },
        { type: "scatter", data: arrowsDown, symbol: ARROW, symbolRotate: 180, symbolKeepAspect: false, symbolSize: [39, 47], silent: true, z: 5, itemStyle: { color: "#ff0000" } },
        {
          type: "scatter", silent: true, z: 6, symbol: "rect",
          data: tagNames.map((n, k) => ({
            name: n, value: tagPoints[k], symbolSize: [n.length > 1 ? 32 : 16, 20],
            itemStyle: { color: "transparent", borderColor: tagColors[k], borderWidth: 1.2 },
            label: { show: true, position: "inside", formatter: n, color: tagColors[k], fontFamily: FONT, fontSize: 10 },
          })),
        },
        {
          type: "scatter", silent: true, z: 6, symbol: "circle", symbolSize: 2, itemStyle: { color: "transparent" },
          data: fanLabels.map((n, k) => ({
            name: n, value: fanLabelPoints[k],
            label: { show: true, position: "inside", formatter: n, color: "#fff", fontFamily: FONT, fontSize: 12, fontWeight: "bold" },
          })),
        },
      ],
    };
    chart.setOption(option);
    return () => chart.dispose();
  }, []);
  return <div ref={ref} style={{ position: "fixed", left: 0, top: 0, width: 1920, height: 1080, background: "#000" }} />;
}
